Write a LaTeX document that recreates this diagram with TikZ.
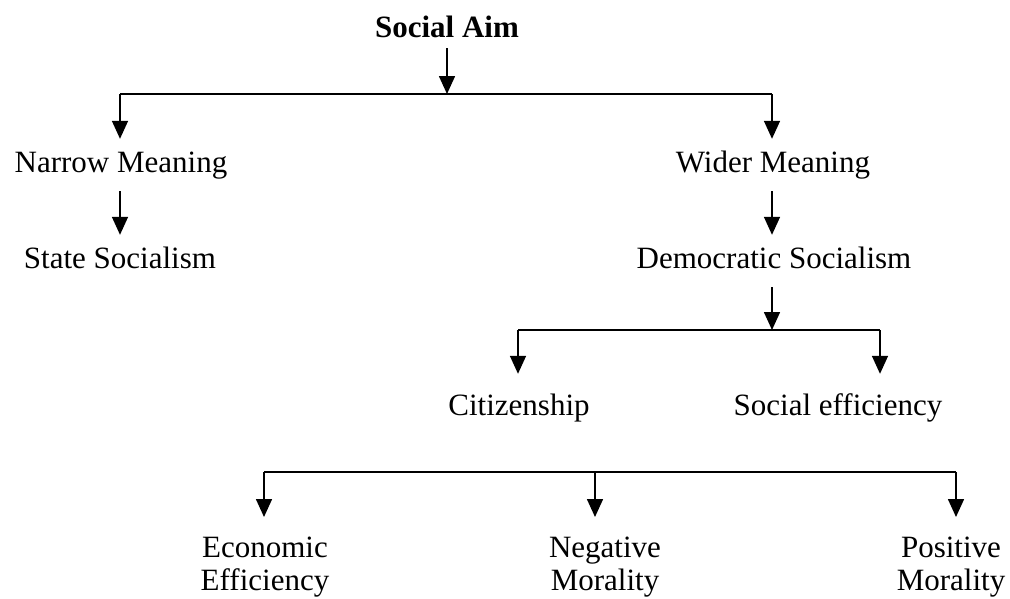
\documentclass[tikz,border=0pt]{standalone}
\usepackage{fontspec}
\setmainfont{Liberation Serif}
\usetikzlibrary{arrows.meta}
\begin{document}
\begin{tikzpicture}[x=1pt,y=-1pt,
  lbl/.style={font=\fontsize{31}{33}\selectfont, anchor=base, inner xsep=0pt, inner ysep=12pt, text height=21pt, text depth=7pt},
  lowlbl/.style={lbl, inner ysep=20pt},
  twolbl/.style={font=\fontsize{31}{33}\selectfont, align=center, anchor=north, inner xsep=0pt, inner ysep=20pt},
  link/.style={line width=1.8pt},
  arr/.style={line width=1.6pt, -{Triangle[width=16pt,length=18pt]}}]
\useasboundingbox (0,0) rectangle (1010,598);
\node[lbl, inner ysep=4pt, font=\fontsize{31}{33}\selectfont\bfseries] (sa) at (447,37) {Social Aim};
\node[lbl] (nm) at (121,172) {Narrow Meaning};
\node[lbl] (wm) at (773,172) {Wider Meaning};
\node[lbl] (ss) at (120,268) {State Socialism};
\node[lbl] (ds) at (774,268) {Democratic Socialism};
\node[lowlbl] (ci) at (519,415) {Citizenship};
\node[lowlbl] (se) at (838,415) {Social efficiency};
\node[twolbl] (ee) at (265,517) {Economic\\Efficiency};
\node[twolbl] (nmo) at (605,517) {Negative\\Morality};
\node[twolbl] (pm) at (951,517) {Positive\\Morality};
% level 1
\coordinate (j1) at (447,94);
\coordinate (j1l) at (120,94);
\coordinate (j1r) at (772,94);
\draw[arr] (sa.south) -- (j1);
\draw[link] (j1l) -- (j1r);
\draw[arr] (j1l) -- (j1l |- nm.north);
\draw[arr] (j1r) -- (j1r |- wm.north);
% level 2
\draw[arr] (nm.south -| j1l) -- (j1l |- ss.north);
\draw[arr] (wm.south -| j1r) -- (j1r |- ds.north);
% level 3
\coordinate (j2) at (772,330);
\coordinate (j2l) at (518,330);
\coordinate (j2r) at (880,330);
\draw[arr] (ds.south -| j2) -- (j2);
\draw[link] (j2l) -- (j2r);
\draw[arr] (j2l) -- (j2l |- ci.north);
\draw[arr] (j2r) -- (j2r |- se.north);
% level 4
\coordinate (j3l) at (264,472);
\coordinate (j3m) at (595,472);
\coordinate (j3r) at (956,472);
\draw[link] (j3l) -- (j3r);
\draw[arr] (j3l) -- (j3l |- ee.north);
\draw[arr] (j3m) -- (j3m |- nmo.north);
\draw[arr] (j3r) -- (j3r |- pm.north);
\end{tikzpicture}
\end{document}
